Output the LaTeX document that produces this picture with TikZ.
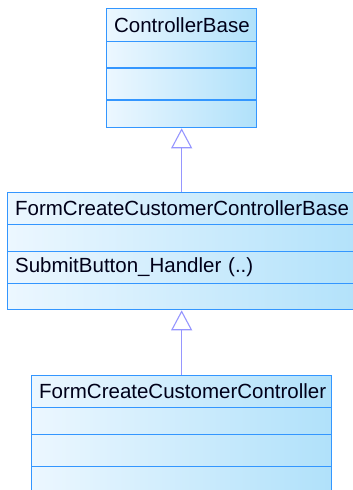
\documentclass[tikz,border=0pt]{standalone}
\usepackage{fontspec}
\setmainfont{Liberation Sans}
\usetikzlibrary{arrows.meta}
\definecolor{umlborder}{RGB}{51,150,255}
\definecolor{umlfillA}{RGB}{236,247,255}
\definecolor{umlfillB}{RGB}{176,225,250}
\definecolor{umlarrow}{RGB}{150,150,255}
\tikzset{
  cell/.style={draw=umlborder, line width=1.3pt, left color=umlfillA, right color=umlfillB,
    anchor=north west, inner ysep=0pt, inner xsep=7.5pt, align=left,
    font=\fontsize{20.5}{24}\selectfont, text=black!90!blue},
  inherit/.style={draw=umlarrow, line width=1.1pt,
    -{Triangle[width=21pt,length=20pt,fill=white,line width=1.1pt]}}
}
\begin{document}
\begin{tikzpicture}[x=1pt,y=-1pt]
\useasboundingbox (0,0) rectangle (353,490);
% ControllerBase
\node[cell, text width=135pt, minimum height=32.7pt] (cbh) at (106,8) {ControllerBase};
\node[cell, text width=135pt, minimum height=26.6pt] (cba) at (106,40.7) {};
\node[cell, text width=135pt, minimum height=32pt] (cbm) at (106,67.3) {};
\node[cell, text width=135pt, minimum height=27.7pt] (cbx) at (106,99.3) {};
% FormCreateCustomerControllerBase
\node[cell, text width=350pt, minimum height=32pt] (fbh) at (7,192) {FormCreateCustomerControllerBase};
\node[cell, text width=350pt, minimum height=26.7pt] (fba) at (7,224) {};
\node[cell, text width=350pt, minimum height=32pt] (fbm) at (7,250.7) {SubmitButton\_Handler (..)};
\node[cell, text width=350pt, minimum height=26.3pt] (fbx) at (7,282.7) {};
% FormCreateCustomerController
\node[cell, text width=285pt, minimum height=32pt] (fch) at (31,375) {FormCreateCustomerController};
\node[cell, text width=285pt, minimum height=27pt] (fca) at (31,407) {};
\node[cell, text width=285pt, minimum height=32pt] (fcm) at (31,434) {};
\node[cell, text width=285pt, minimum height=32pt] (fcx) at (31,466) {};
% generalisations
\draw[inherit] (cbx.south |- fbh.north) -- (cbx.south);
\draw[inherit] (fch.north) -- (fch.north |- fbx.south);
\end{tikzpicture}
\end{document}
